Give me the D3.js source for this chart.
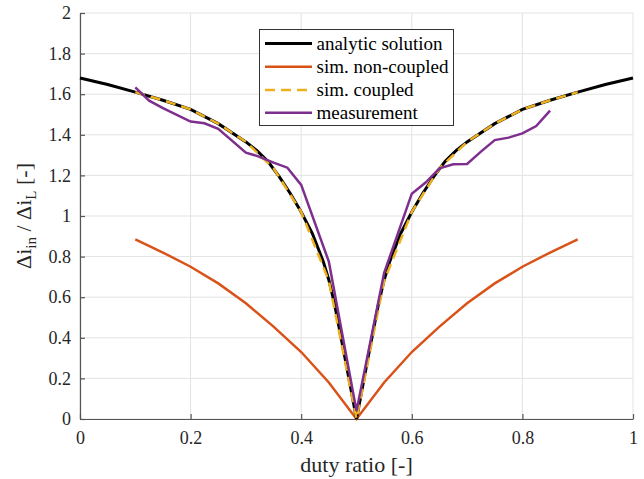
<!DOCTYPE html>
<html>
<head>
<meta charset="utf-8">
<script src="https://cdn.jsdelivr.net/npm/d3@7/dist/d3.min.js"></script>
<style>
  html, body { margin: 0; padding: 0; background: #fff; }
  svg { display: block; font-family: "Liberation Serif", serif; }
  svg text { font-family: "Liberation Serif", serif; }
</style>
</head>
<body>
<svg id="chart" width="644" height="479"></svg>
<script>
// ---- data ----
const analyticD = [0, 0.05, 0.1, 0.15, 0.2, 0.25, 0.3, 0.32, 0.34, 0.36, 0.38, 0.4, 0.42, 0.44, 0.45, 0.46, 0.47, 0.48, 0.49, 0.5,
                   0.51, 0.52, 0.53, 0.54, 0.55, 0.56, 0.58, 0.6, 0.62, 0.64, 0.66, 0.68, 0.7, 0.75, 0.8, 0.85, 0.9, 0.95, 1];
const analyticV = [1.68, 1.648, 1.61, 1.57, 1.525, 1.455, 1.365, 1.322, 1.268, 1.195, 1.112, 1.02, 0.915, 0.775, 0.685, 0.57, 0.43, 0.29, 0.145, 0,
                   0.145, 0.29, 0.43, 0.57, 0.685, 0.775, 0.915, 1.02, 1.112, 1.195, 1.268, 1.322, 1.365, 1.455, 1.525, 1.57, 1.61, 1.648, 1.68];

const simD = [0.1, 0.15, 0.2, 0.25, 0.3, 0.35, 0.4, 0.45, 0.5, 0.55, 0.6, 0.65, 0.7, 0.75, 0.8, 0.85, 0.9];
const nonCoupledV = [0.885, 0.82, 0.75, 0.668, 0.57, 0.455, 0.33, 0.18, 0, 0.18, 0.33, 0.455, 0.57, 0.668, 0.75, 0.82, 0.885];
const coupledV = [1.61, 1.57, 1.525, 1.455, 1.365, 1.235, 1.02, 0.68, 0, 0.68, 1.02, 1.235, 1.365, 1.455, 1.525, 1.57, 1.61];

const measD = [0.1, 0.125, 0.15, 0.2, 0.225, 0.25, 0.3, 0.32, 0.35, 0.375, 0.4, 0.45, 0.5, 0.55, 0.6, 0.625, 0.65, 0.675, 0.7, 0.725, 0.75, 0.775, 0.8, 0.825, 0.85];
const measV = [1.634, 1.568, 1.531, 1.465, 1.457, 1.429, 1.312, 1.296, 1.263, 1.238, 1.153, 0.775, 0.04, 0.72, 1.11, 1.165, 1.235, 1.255, 1.256, 1.317, 1.374, 1.386, 1.407, 1.443, 1.519];

const xTicks = [0, 0.2, 0.4, 0.6, 0.8, 1];
const yTicks = [0, 0.2, 0.4, 0.6, 0.8, 1, 1.2, 1.4, 1.6, 1.8, 2];

const legendLabels = ["analytic solution", "sim. non-coupled", "sim. coupled", "measurement"];

// ---- layout ----
const FONT = "Liberation Serif, serif";
const svg = d3.select("#chart");
const mLeft = 80, mRight = 633, mTop = 13, mBottom = 419;
const x = d3.scaleLinear().domain([0, 1]).range([mLeft, mRight]);
const y = d3.scaleLinear().domain([0, 2]).range([mBottom, mTop]);

// grid
const grid = svg.append("g");
grid.selectAll("line.gx").data(xTicks).join("line")
  .attr("x1", d => x(d)).attr("x2", d => x(d)).attr("y1", mTop).attr("y2", mBottom)
  .attr("stroke", "#e3e3e3").attr("stroke-width", 1);
grid.selectAll("line.gy").data(yTicks).join("line")
  .attr("y1", d => y(d)).attr("y2", d => y(d)).attr("x1", mLeft).attr("x2", mRight)
  .attr("stroke", "#e3e3e3").attr("stroke-width", 1);

// axes
const xAxis = d3.axisBottom(x).tickValues(xTicks).tickSizeInner(-5).tickSizeOuter(0).tickPadding(12)
  .tickFormat(d => d3.format("")(d));
const yAxis = d3.axisLeft(y).tickValues(yTicks).tickSizeInner(-5).tickSizeOuter(0).tickPadding(9)
  .tickFormat(d => d3.format("")(+d.toFixed(1)));

const gx = svg.append("g").attr("transform", `translate(0,${mBottom})`).call(xAxis);
const gy = svg.append("g").attr("transform", `translate(${mLeft},0)`).call(yAxis);
[gx, gy].forEach(g => {
  g.attr("font-family", FONT).attr("font-size", 18);
  g.select(".domain").attr("stroke", "#555").attr("stroke-width", 1.2);
  g.selectAll(".tick line").attr("stroke", "#555").attr("stroke-width", 1.2);
  g.selectAll(".tick text").attr("fill", "#262626").attr("font-family", FONT).attr("font-size", 18);
});

// lines
const lineGen = d3.line().x(d => x(d[0])).y(d => y(d[1]));
const zip = (a, b) => a.map((v, i) => [v, b[i]]);

const plot = svg.append("g");
plot.append("path").datum(zip(simD, nonCoupledV)).attr("d", lineGen)
  .attr("fill", "none").attr("stroke", "#D95319").attr("stroke-width", 2.5);
plot.append("path").datum(zip(analyticD, analyticV)).attr("d", lineGen)
  .attr("fill", "none").attr("stroke", "#000").attr("stroke-width", 3);
plot.append("path").datum(zip(simD, coupledV)).attr("d", lineGen)
  .attr("fill", "none").attr("stroke", "#EDB120").attr("stroke-width", 2.5).attr("stroke-dasharray", "10,6");
plot.append("path").datum(zip(measD, measV)).attr("d", lineGen)
  .attr("fill", "none").attr("stroke", "#7E2F8E").attr("stroke-width", 2.5);

// legend
const lg = svg.append("g");
lg.append("rect").attr("x", 259.5).attr("y", 29.5).attr("width", 194).attr("height", 96)
  .attr("fill", "#fff").attr("stroke", "#333").attr("stroke-width", 1);
const legStyles = [
  { c: "#000", w: 3, dash: null },
  { c: "#D95319", w: 2.5, dash: null },
  { c: "#EDB120", w: 2.5, dash: "10,6" },
  { c: "#7E2F8E", w: 2.5, dash: null }
];
const rowY = [43.5, 66.8, 90, 112.8];
legendLabels.forEach((t, i) => {
  const s = legStyles[i];
  lg.append("line").attr("x1", 265).attr("x2", 312).attr("y1", rowY[i]).attr("y2", rowY[i])
    .attr("stroke", s.c).attr("stroke-width", s.w).attr("stroke-dasharray", s.dash);
  lg.append("text").attr("x", 316.5).attr("y", rowY[i]).attr("dy", "0.33em")
    .attr("font-family", FONT).attr("font-size", 19).attr("fill", "#000").text(t);
});

// axis labels
svg.append("text").attr("x", (mLeft + mRight) / 2).attr("y", 472).attr("text-anchor", "middle")
  .attr("font-family", FONT).attr("font-size", 22).attr("fill", "#262626").text("duty ratio [-]");

const yl = svg.append("text").attr("transform", `translate(31,${(mTop + mBottom) / 2}) rotate(-90)`)
  .attr("text-anchor", "middle").attr("font-family", FONT).attr("font-size", 22).attr("fill", "#262626");
yl.append("tspan").text("Δi");
yl.append("tspan").attr("dy", 5).attr("font-size", 15).text("in");
yl.append("tspan").attr("dy", -5).text(" / Δi");
yl.append("tspan").attr("dy", 5).attr("font-size", 15).text("L");
yl.append("tspan").attr("dy", -5).text(" [-]");
</script>
</body>
</html>
